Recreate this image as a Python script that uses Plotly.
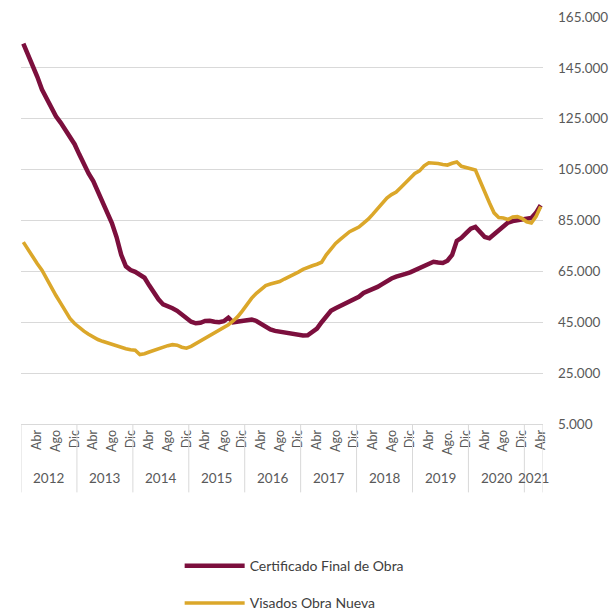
import plotly.graph_objects as go

# Monthly series, Jan 2012 - Apr 2021 (thousands of dwellings, 12-month rolling totals)
years = [2012, 2013, 2014, 2015, 2016, 2017, 2018, 2019, 2020, 2021]
months_per_year = [12, 12, 12, 12, 12, 12, 12, 12, 12, 4]

cert_final_obra = [
    154.5, 150.5, 146.0, 141.5, 136.5, 133.0, 129.5, 126.0, 123.5, 120.5, 118.0, 115.0,
    111.0, 107.0, 103.5, 100.5, 96.5, 91.5, 87.5, 84.0, 78.5, 71.5, 67.0, 65.5,
    64.8, 63.5, 62.5, 59.5, 56.5, 54.0, 52.0, 51.0, 50.5, 49.5, 48.0, 46.5,
    45.2, 44.6, 44.8, 45.5, 45.6, 45.2, 45.0, 45.4, 46.8, 45.0, 45.2, 45.6,
    46.0, 46.1, 45.5, 44.5, 43.0, 42.2, 41.6, 41.3, 41.0, 40.6, 40.3, 40.0,
    39.8, 39.9, 41.0, 42.5, 45.0, 47.5, 49.5, 50.5, 51.4, 52.5, 53.1, 54.0,
    55.0, 56.5, 57.2, 58.3, 58.9, 60.0, 61.3, 62.2, 62.9, 63.3, 64.0, 64.6,
    65.5, 66.2, 67.2, 68.1, 68.8, 68.5, 68.3, 69.2, 71.5, 77.0, 78.2, 80.0,
    81.8, 82.5, 80.5, 78.5, 78.0, 79.5, 81.0, 82.5, 84.2, 84.8, 85.0, 85.4,
    85.8, 86.0, 88.0, 91.0,
]

visados_obra_nueva = [
    76.5, 73.5, 70.5, 68.0, 65.5, 62.0, 58.5, 55.5, 52.5, 49.5, 46.5, 44.5,
    42.8, 41.5, 40.3, 39.2, 38.2, 37.5, 36.9, 36.2, 35.5, 35.2, 34.6, 34.2,
    34.0, 32.3, 32.6, 33.3, 34.0, 34.6, 35.3, 35.8, 36.2, 36.0, 35.2, 34.8,
    35.5, 36.6, 37.6, 38.5, 39.7, 40.9, 41.9, 42.8, 44.0, 45.5, 47.2, 49.5,
    52.2, 54.5, 56.4, 58.0, 59.4, 60.0, 60.5, 61.0, 62.0, 62.8, 63.8, 64.7,
    65.8, 66.6, 67.2, 67.8, 68.6, 71.5, 74.0, 76.0, 77.6, 79.2, 80.6, 81.5,
    82.4, 84.0, 85.5, 87.5, 89.5, 91.8, 93.8, 95.2, 96.2, 98.0, 99.8, 101.8,
    103.5, 104.5, 106.5, 107.7, 107.6, 107.4, 107.0, 106.8, 107.5, 108.0, 106.3, 105.8,
    105.5, 104.8, 100.5, 96.0, 92.0, 88.0, 86.2, 86.0, 85.4, 86.4, 86.5, 85.8,
    84.5, 84.0, 86.5, 90.5,
]

# Month labels shown on the axis (month index within the year -> label)
month_labels = {3: "Abr", 7: "Ago", 11: "Dic"}
ago_2019_label = "Ago."

y_ticks = [5000, 25000, 45000, 65000, 85000, 105000, 125000, 145000, 165000]

BURGUNDY = "#7c0f3d"
GOLD = "#dba72a"
TEXT = "#595959"
GRID = "#d9d9d9"
FONT = "Lato"

# Build month index, tick positions and year group boundaries
tickvals, ticktext = [], []
year_starts = []
idx = 0
for yr, n in zip(years, months_per_year):
    year_starts.append(idx)
    for m in range(n):
        if m in month_labels:
            tickvals.append(idx)
            label = month_labels[m]
            if yr == 2019 and m == 7:
                label = ago_2019_label
            ticktext.append(label)
        idx += 1
n_months = idx
x = list(range(n_months))

fig = go.Figure()
fig.add_trace(go.Scatter(
    x=x, y=[v * 1000 for v in cert_final_obra], mode="lines",
    name="Certificado Final de Obra", legendgroup="cfo",
    line=dict(color=BURGUNDY, width=4.5, shape="linear"),
))
fig.add_trace(go.Scatter(
    x=x, y=[v * 1000 for v in visados_obra_nueva], mode="lines",
    name="Visados Obra Nueva", legendgroup="von",
    line=dict(color=GOLD, width=3.6, shape="linear"),
))

# Year group separators and year labels under the month ticks
bounds = year_starts + [n_months]
for b in bounds:
    fig.add_shape(type="line", xref="x", yref="paper",
                  x0=b - 0.5, x1=b - 0.5, y0=0, y1=-0.168,
                  line=dict(color=GRID, width=1))
for yr, s, n in zip(years, year_starts, months_per_year):
    fig.add_annotation(x=s + (n - 1) / 2, y=-0.133, xref="x", yref="paper",
                       text=str(yr), showarrow=False,
                       font=dict(family=FONT, size=13.5, color=TEXT),
                       xanchor="center", yanchor="middle")

fig.update_layout(
    width=609, height=610,
    margin=dict(l=21, r=66, t=17, b=186, autoexpand=False),
    paper_bgcolor="white", plot_bgcolor="white",
    separators=",.",
    font=dict(family=FONT, color=TEXT),
    showlegend=True,
    legend=dict(
        x=0.295, xanchor="left", xref="container",
        y=0.098, yanchor="top", yref="container",
        orientation="v", itemwidth=60, tracegroupgap=16,
        font=dict(family=FONT, size=14, color="#404040"),
        bgcolor="rgba(0,0,0,0)",
    ),
    xaxis=dict(
        range=[-0.5, n_months - 0.5],
        tickmode="array", tickvals=tickvals, ticktext=ticktext,
        tickangle=-90, tickfont=dict(family=FONT, size=12.5, color=TEXT),
        showgrid=False, zeroline=False,
        showline=True, linecolor=GRID, linewidth=1,
        ticks="", fixedrange=True, automargin=False,
    ),
    yaxis=dict(
        side="right", range=[5000, 165000],
        tickmode="array", tickvals=y_ticks, tickformat=",d",
        tickfont=dict(family=FONT, size=13.5, color=TEXT),
        showgrid=True, gridcolor=GRID, gridwidth=1,
        zeroline=False, showline=False,
        ticks="", ticklabelstandoff=14, automargin=False,
    ),
)

fig.write_html("out.html")
